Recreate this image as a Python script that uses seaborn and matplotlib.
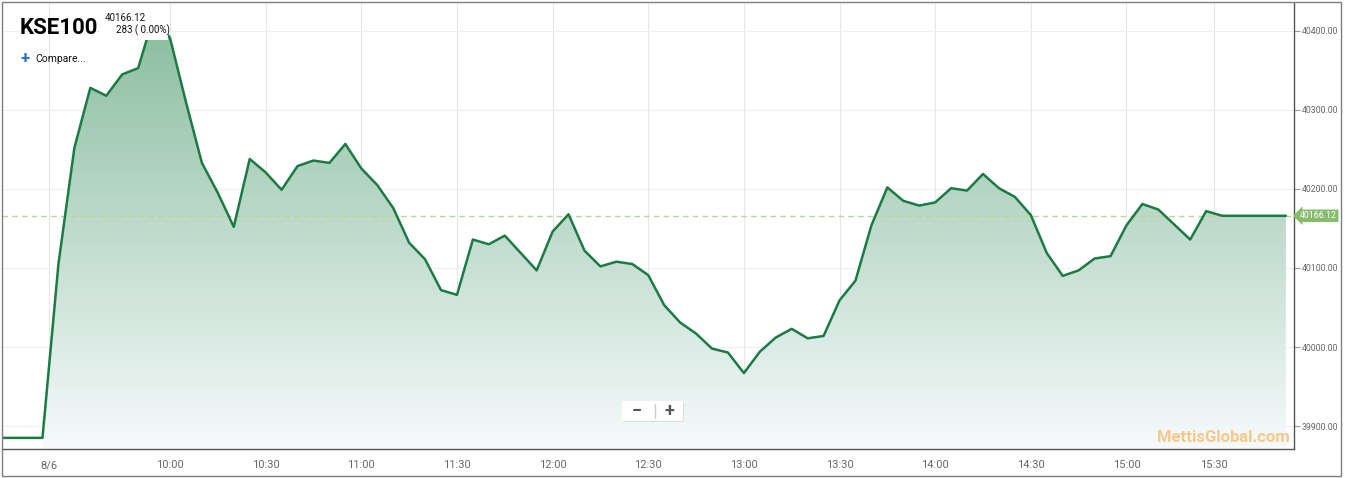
import numpy as np
import pandas as pd
import seaborn as sns
import matplotlib.pyplot as plt
from matplotlib.patches import Rectangle, FancyBboxPatch, Polygon

# KSE100 intraday, 5-minute points (first four = previous close, then 9:25 ... 15:50)
prev_close = 39885
last_price = 40166.12
values = [
    prev_close, prev_close, prev_close, prev_close,
    40105, 40252, 40328, 40318, 40345, 40353, 40420, 40391,
    40310, 40233, 40195, 40152, 40238, 40221, 40199, 40229,
    40236, 40233, 40257, 40226, 40205, 40176, 40132, 40111,
    40072, 40066, 40136, 40130, 40141, 40119, 40097, 40146,
    40168, 40122, 40102, 40108, 40105, 40091, 40053, 40031,
    40017, 39998, 39993, 39967, 39994, 40012, 40023, 40011,
    40014, 40059, 40084, 40154, 40202, 40185, 40179, 40183,
    40201, 40198, 40219, 40201, 40190, 40167, 40119, 40090,
    40097, 40112, 40115, 40154, 40181, 40174, 40155, 40136,
    40172, last_price, last_price, last_price, last_price, last_price,
]
x_ticks = [0.41, 8, 14, 20, 26, 32, 38, 44, 50, 56, 62, 68, 73.5]
x_labels = ["8/6", "10:00", "10:30", "11:00", "11:30", "12:00", "12:30",
            "13:00", "13:30", "14:00", "14:30", "15:00", "15:30"]
y_ticks = [39900, 40000, 40100, 40200, 40300, 40400]

df = pd.DataFrame({"pos": np.arange(len(values)) - 3, "price": values})

W, H = 1345, 478
sns.set_style("white")
plt.rcParams["font.family"] = ["Roboto", "DejaVu Sans"]

fig = plt.figure(figsize=(W / 100, H / 100), dpi=100)
ax = fig.add_axes([2 / W, 1 - 449 / H, (1294 - 2) / W, (449 - 3) / H])

xlim = (-2.54, 78.51)
ylim = (39870.9, 40435.4)

# gradient fill under the line (starts at the open)
grad_top = np.array([0x86, 0xbb, 0x9b]) / 255
grad_bot = np.array([0xf6, 0xfa, 0xfc]) / 255
t = np.linspace(0, 1, 256)[:, None, None]
grad = grad_top * (1 - t) + grad_bot * t
img = ax.imshow(grad, extent=[xlim[0], xlim[1], ylim[0], ylim[1]],
                aspect="auto", origin="upper", zorder=1)
session = df[df["pos"] >= 0]
verts = list(zip(session["pos"], session["price"]))
verts = [(session["pos"].iloc[0], ylim[0])] + verts + [(session["pos"].iloc[-1], ylim[0])]
clip = Polygon(verts, closed=True, facecolor="none", edgecolor="none")
ax.add_patch(clip)
img.set_clip_path(clip)

sns.lineplot(data=df, x="pos", y="price", ax=ax, color="#1d7a45",
             linewidth=1.8, zorder=3)
ax.axhline(last_price, color="#b9d59c", linestyle=(0, (4, 3)), linewidth=1, zorder=2)

ax.set_xlim(*xlim)
ax.set_ylim(*ylim)
ax.set_xlabel("")
ax.set_ylabel("")

ax.set_xticks(x_ticks)
ax.set_xticklabels(x_labels)
ax.yaxis.tick_right()
ax.set_yticks(y_ticks)
ax.set_yticklabels([f"{v:.2f}" for v in y_ticks])
ax.tick_params(axis="x", length=5, color="#999999", labelsize=8,
               labelcolor="#666666", pad=3)
ax.tick_params(axis="y", length=4, color="#999999", labelsize=6.3,
               labelcolor="#666666", pad=1.5)
ax.grid(True, axis="x", color="#e6e6e6", linewidth=0.8, zorder=0)
ax.grid(True, axis="y", color="#efefef", linewidth=0.8, zorder=0)
ax.set_axisbelow(True)

for side in ["top", "left"]:
    ax.spines[side].set_visible(False)
for side in ["right", "bottom"]:
    ax.spines[side].set_color("#555555")
    ax.spines[side].set_linewidth(1)

# last price flag on the right axis
ax.text(1.0045, last_price, "40166.12", transform=ax.get_yaxis_transform(),
        ha="left", va="center", fontsize=6.3, color="white", zorder=5,
        bbox=dict(boxstyle="larrow,pad=0.2", fc="#86bd6c", ec="none"),
        clip_on=False)


def fx(px):
    return px / W


def fy(py):
    return 1 - py / H


# white header box over the top of the chart
fig.add_artist(Rectangle((fx(100), fy(40)), fx(68), 37 / H,
                         transform=fig.transFigure, fc="white", ec="none", zorder=2))
fig.text(fx(20), fy(34), "KSE100", fontsize=16, fontweight="bold",
         color="black", ha="left", va="baseline", zorder=3)
fig.text(fx(105), fy(18), "40166.12", fontsize=7, color="#111111",
         ha="left", va="center", zorder=3)
fig.text(fx(116), fy(30), "283 ( 0.00%)", fontsize=7, color="#111111",
         ha="left", va="center", zorder=3)
fig.text(fx(25), fy(59), "+", fontsize=12, fontweight="bold", color="#2a6dd6",
         ha="center", va="center", zorder=3)
fig.text(fx(35), fy(59), "Compare...", fontsize=7.5, color="#111111",
         ha="left", va="center", zorder=3)

# zoom buttons
fig.add_artist(FancyBboxPatch((fx(623), fy(422)), fx(61), 20 / H,
                              boxstyle="round,pad=0,rounding_size=0.002",
                              transform=fig.transFigure, fc="#dcdcdc",
                              ec="none", zorder=3))
fig.add_artist(FancyBboxPatch((fx(622), fy(421)), fx(61), 20 / H,
                              boxstyle="round,pad=0,rounding_size=0.002",
                              transform=fig.transFigure, fc="white",
                              ec="none", zorder=3))
fig.add_artist(plt.Line2D([fx(655), fx(655)], [fy(418), fy(404)],
                          transform=fig.transFigure, color="#cccccc",
                          linewidth=1, zorder=4))
fig.text(fx(637), fy(411), "−", fontsize=13, fontweight="bold", color="#555555",
         ha="center", va="center", zorder=4)
fig.text(fx(669), fy(411), "+", fontsize=13, fontweight="bold", color="#555555",
         ha="center", va="center", zorder=4)

# watermark
fig.text(fx(1290), fy(437), "MettisGlobal.com", fontsize=12, fontweight="bold",
         color="#f6c98a", ha="right", va="center", zorder=3)

# outer frame
fig.add_artist(Rectangle((fx(2), fy(476)), fx(1339), 474 / H,
                         transform=fig.transFigure, fill=False,
                         ec="#7f7f7f", linewidth=1, zorder=5))

fig.savefig("out.png", dpi=100)
